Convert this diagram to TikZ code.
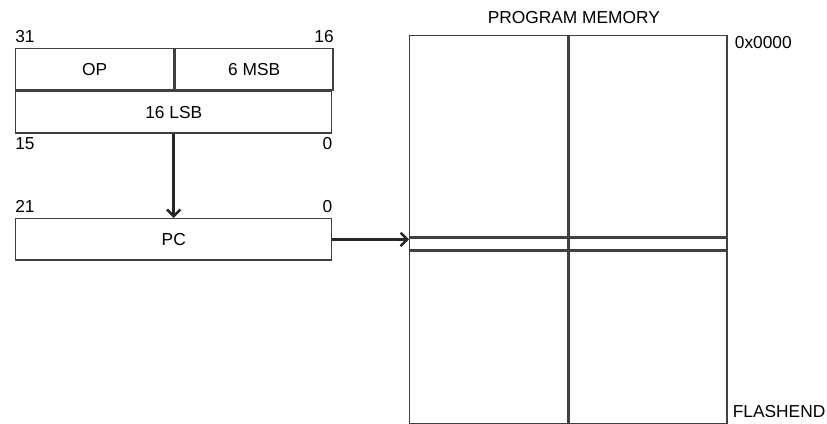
\documentclass[tikz,border=0pt]{standalone}
\usepackage{fontspec}
\setmainfont{Liberation Sans}
\usetikzlibrary{positioning,arrows.meta}

\begin{document}
\begin{tikzpicture}[x=0.75pt, y=-0.75pt, font=\fontsize{13}{15}\selectfont,
    field/.style={rectangle, draw=black!75, line width=1.1pt, anchor=north west, inner sep=0pt, minimum height=31pt},
    cell/.style={rectangle, draw=black!75, line width=1.1pt, anchor=north west, inner sep=0pt, minimum width=118.5pt},
    bitno/.style={inner sep=0pt},
    link/.style={-{Straight Barb[length=5pt,width=10pt]}, line width=1.9pt, black!85}]
  \useasboundingbox (0,0) rectangle (827,424);

  % Instruction word
  \node (op) [field, minimum width=118.5pt] at (15,48) {OP};
  \node (msb) [field, minimum width=118.5pt, right=0pt of op] {6 MSB};
  \node (lsb) [field, minimum width=237pt, below=0pt of op.south west, anchor=north west] {16 LSB};
  \node (pc) [field, minimum width=237pt] at (15,218) {PC};

  % Bit numbers
  \node (b31) [bitno, anchor=south west] at ([yshift=4pt]op.north west) {31};
  \node (b16) [bitno, anchor=south east] at ([yshift=4pt]msb.north east) {16};
  \node (b15) [bitno, anchor=north west] at ([yshift=-3pt]lsb.south west) {15};
  \node (b0a) [bitno, anchor=north east] at ([yshift=-3pt]lsb.south east) {0};
  \node (b21) [bitno, anchor=south west] at ([yshift=4pt]pc.north west) {21};
  \node (b0b) [bitno, anchor=south east] at ([yshift=4pt]pc.north east) {0};

  % Program memory
  \node (tl) [cell, minimum height=150.75pt] at (409,35) {};
  \node (tr) [cell, minimum height=150.75pt, right=0pt of tl] {};
  \node (ml) [cell, minimum height=9pt, below=0pt of tl.south west, anchor=north west] {};
  \node (mr) [cell, minimum height=9pt, right=0pt of ml] {};
  \node (bl) [cell, minimum height=129pt, below=0pt of ml.south west, anchor=north west] {};
  \node (br) [cell, minimum height=129pt, right=0pt of bl] {};
  \node (title) [anchor=south, inner sep=0pt] at ([xshift=4pt, yshift=8pt]tl.north east) {PROGRAM MEMORY};
  \node (start) [anchor=north west, inner sep=0pt] at ([xshift=5pt, yshift=-1pt]tr.north east) {0x0000};
  \node (end) [anchor=south west, inner sep=0pt] at ([xshift=3.5pt, yshift=5pt]br.south east) {FLASHEND};

  % Edges
  \draw [link] (lsb.south) -- (pc.north);
  \draw [link] (pc.east) -- (pc.east -| ml.west);
\end{tikzpicture}
\end{document}
